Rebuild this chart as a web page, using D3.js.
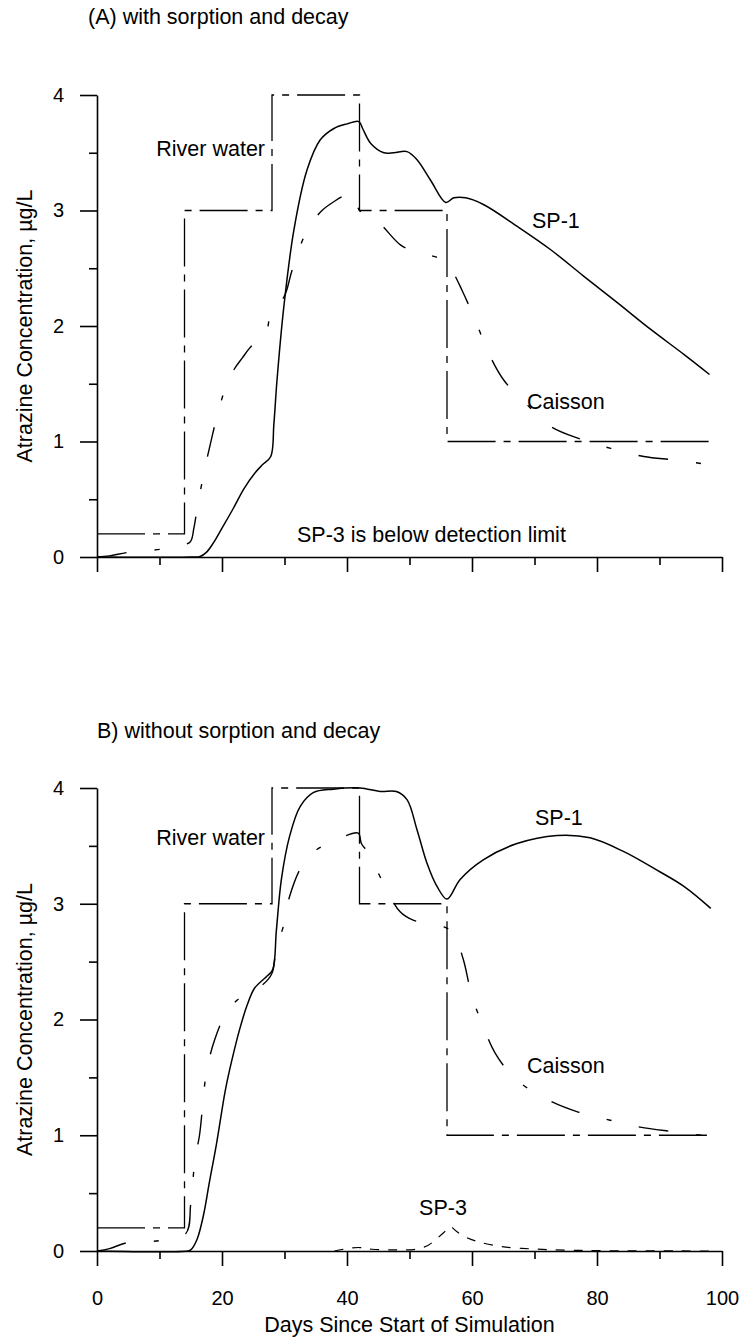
<!DOCTYPE html>
<html>
<head>
<meta charset="utf-8">
<script src="https://cdn.jsdelivr.net/npm/d3@7"></script>
<style>
  body { margin: 0; background: #fff; }
  svg text { font-family: "Liberation Sans", Arial, Helvetica, sans-serif; fill: #000; }
</style>
</head>
<body>
<div id="chart"></div>
<script>
// tick values
var dayMajor = [0, 20, 40, 60, 80, 100];
var dayMinor = [10, 30, 50, 70, 90];
var concMajor = [0, 1, 2, 3, 4];
var concMinor = [0.5, 1.5, 2.5, 3.5];

// river water input (step changes), same in both runs
var riverDays = [0, 14, 28, 42, 56, 98];
var riverConc = [0.2, 3, 4, 3, 1, 1];

// (A) with sorption and decay  -- [day, ug/L]
var sp1A = [[0,0],[15,0],[16.5,0.005],[17.5,0.04],[18.6,0.12],[20,0.25],[21.8,0.42],[23.5,0.59],[25.3,0.73],[26.5,0.8],[27.8,0.87],
  [28.3,1.15],[28.8,1.53],[29.9,2.17],[31.5,2.83],[33.6,3.35],[35.7,3.61],[37.9,3.71],[40,3.75],[41.9,3.77],
  [42.5,3.71],[43.8,3.58],[45.9,3.50],[47.5,3.50],[49.6,3.51],[51.2,3.44],[53.4,3.26],[55.8,3.07],[57.1,3.11],
  [59,3.11],[61.9,3.05],[67.3,2.86],[72.6,2.66],[77.9,2.43],[83.3,2.20],[88.6,1.97],[94,1.75],[98,1.58]];
var caisA = [[0,0],[2,0.01],[5,0.04],[10.6,0.07],[13,0.1],[14.9,0.13],[15.5,0.25],[16,0.41],[17,0.70],[18.4,1.04],
  [19.5,1.28],[20.8,1.50],[22,1.63],[23.2,1.72],[25,1.84],[26.7,1.88],[28,2.14],[29.9,2.25],[31.2,2.48],[33.1,2.77],
  [34.5,2.9],[36,3.0],[38,3.08],[40,3.14],[41,3.15],[42,3.0],[43.5,2.96],[45.4,2.88],[48.6,2.70],[51,2.64],
  [53.4,2.61],[55.5,2.57],[56.6,2.50],[58.4,2.31],[60.6,2.04],[62.7,1.76],[65.1,1.53],[68.6,1.33],[72.6,1.13],
  [77.4,1.02],[82.2,0.94],[87.5,0.87],[92.4,0.84],[98,0.80]];

// B) without sorption and decay
var sp1B = [[0,0],[14.5,0],[15,0.01],[16,0.1],[17,0.3],[18,0.6],[19.1,0.92],[20.5,1.38],[21.2,1.56],[22.8,1.91],
  [24,2.12],[25.2,2.27],[27.1,2.37],[28.1,2.43],[28.7,2.77],[29.5,3.21],[30.8,3.58],[32.5,3.84],[34.6,3.96],
  [37.8,3.99],[42.1,4.0],[45.3,3.97],[47.9,3.97],[49.6,3.90],[51.2,3.64],[52.8,3.35],[54.4,3.15],[56,3.04],
  [58.1,3.21],[61.8,3.38],[67.2,3.52],[73.6,3.59],[78.9,3.57],[84.3,3.45],[89.6,3.29],[93.9,3.15],[98.2,2.96]];
var caisB = [[0,0],[2,0.02],[4.7,0.07],[10,0.09],[14.2,0.15],[15,0.41],[15.7,0.8],[16.4,1.0],[17.5,1.54],[18.8,1.82],
  [20.7,2.06],[22.5,2.17],[24.2,2.23],[26.5,2.3],[28,2.4],[28.7,2.63],[29.8,2.80],[30.8,3.06],[32.7,3.32],
  [34.5,3.44],[36.5,3.51],[39,3.57],[41.8,3.61],[42.3,3.52],[43.4,3.44],[45.8,3.18],[48.5,2.93],[50.5,2.86],
  [52.8,2.83],[55.5,2.80],[57,2.75],[58.6,2.52],[60,2.20],[61.8,1.94],[63.7,1.71],[66.9,1.49],[72,1.31],
  [77,1.20],[82.1,1.13],[86.9,1.07],[92.3,1.03],[98.2,0.99]];
var sp3B = [[38,0],[40,0.02],[42,0.03],[44,0.015],[48,0.01],[51,0.015],[53,0.05],[54.1,0.095],[55.5,0.16],
  [56.5,0.21],[57.5,0.17],[59,0.12],[61,0.08],[64.8,0.037],[70.1,0.017],[75,0.008],[80,0.003],[98,0]];

var W = 746, H = 1339;
var FS = '21.5px';
var svg = d3.select('#chart').append('svg').attr('width', W).attr('height', H);

var x = d3.scaleLinear().domain([0, 100]).range([97, 722]);

function drawPanel(cfg) {
  var y = d3.scaleLinear().domain([0, 4]).range([cfg.bottom, cfg.top]);
  var g = svg.append('g').attr('class', cfg.cls);

  // title
  g.append('text').attr('x', cfg.titleX).attr('y', cfg.titleY)
    .style('font-size', FS).text(cfg.title);

  // y axis
  g.append('g').attr('transform', 'translate(' + x(0) + ',0)')
    .call(d3.axisLeft(y).tickValues(concMajor).tickSize(17).tickSizeOuter(0).tickPadding(16).tickFormat(d3.format('d')))
    .call(a => a.selectAll('text').style('font-size', '20px'));
  g.append('g').attr('transform', 'translate(' + x(0) + ',0)')
    .call(d3.axisLeft(y).tickValues(concMinor).tickSize(8).tickFormat(''))
    .call(a => a.select('.domain').remove());

  // x axis
  g.append('g').attr('transform', 'translate(0,' + y(0) + ')')
    .call(d3.axisBottom(x).tickValues(dayMajor).tickSize(15).tickSizeOuter(0).tickPadding(25)
      .tickFormat(cfg.xLabels ? d3.format('d') : ''))
    .call(a => a.selectAll('text').style('font-size', '20px'));
  g.append('g').attr('transform', 'translate(0,' + y(0) + ')')
    .call(d3.axisBottom(x).tickValues(dayMinor).tickSize(8).tickFormat(''))
    .call(a => a.select('.domain').remove());

  g.selectAll('.domain, .tick line').attr('stroke', '#000').attr('stroke-width', 1.6);

  // y title
  g.append('text')
    .attr('transform', 'translate(32,' + ((cfg.top + cfg.bottom) / 2) + ') rotate(-90)')
    .attr('text-anchor', 'middle').style('font-size', FS)
    .text('Atrazine Concentration,  \u00b5g/L');

  var line = d3.line().x(d => x(d[0])).y(d => y(d[1])).curve(d3.curveCatmullRom.alpha(0.5));
  var step = d3.line().x(d => x(d.day)).y(d => y(d.c)).curve(d3.curveStepAfter);
  var river = riverDays.map((d, i) => ({ day: d, c: riverConc[i] }));

  g.append('path').datum(river).attr('d', step)
    .attr('fill', 'none').attr('stroke', '#000').attr('stroke-width', 1.3)
    .attr('stroke-dasharray', '48,8,7,8');

  g.append('path').datum(cfg.caisson).attr('d', line)
    .attr('fill', 'none').attr('stroke', '#000').attr('stroke-width', 1.4)
    .attr('stroke-dasharray', '30,28,5,28');

  if (cfg.sp3) {
    g.append('path').datum(cfg.sp3).attr('d', line)
      .attr('fill', 'none').attr('stroke', '#000').attr('stroke-width', 1.2)
      .attr('stroke-dasharray', '9,9');
  }

  g.append('path').datum(cfg.sp1).attr('d', line)
    .attr('fill', 'none').attr('stroke', '#000').attr('stroke-width', 1.5);

  // labels
  cfg.labels.forEach(function (l) {
    g.append('text').attr('x', l.x).attr('y', l.y)
      .attr('text-anchor', l.anchor || 'start').style('font-size', FS).text(l.t);
  });
}

drawPanel({
  cls: 'panel-a', top: 95, bottom: 557, title: '(A) with sorption and decay', titleX: 88, titleY: 24,
  xLabels: false, sp1: sp1A, caisson: caisA, sp3: null,
  labels: [
    { t: 'River water', x: 265, y: 156, anchor: 'end' },
    { t: 'SP-1', x: 532, y: 228 },
    { t: 'Caisson', x: 527, y: 409 },
    { t: 'SP-3 is below detection limit', x: 297, y: 542 }
  ]
});

drawPanel({
  cls: 'panel-b', top: 788, bottom: 1251, title: 'B) without sorption and decay', titleX: 97, titleY: 738,
  xLabels: true, sp1: sp1B, caisson: caisB, sp3: sp3B,
  labels: [
    { t: 'River water', x: 265, y: 845, anchor: 'end' },
    { t: 'SP-1', x: 535, y: 825 },
    { t: 'Caisson', x: 527, y: 1073 },
    { t: 'SP-3', x: 443, y: 1215, anchor: 'middle' }
  ]
});

svg.append('text').attr('x', (x(0) + x(100)) / 2).attr('y', 1332)
  .attr('text-anchor', 'middle').style('font-size', FS)
  .text('Days Since Start of Simulation');
</script>
</body>
</html>
